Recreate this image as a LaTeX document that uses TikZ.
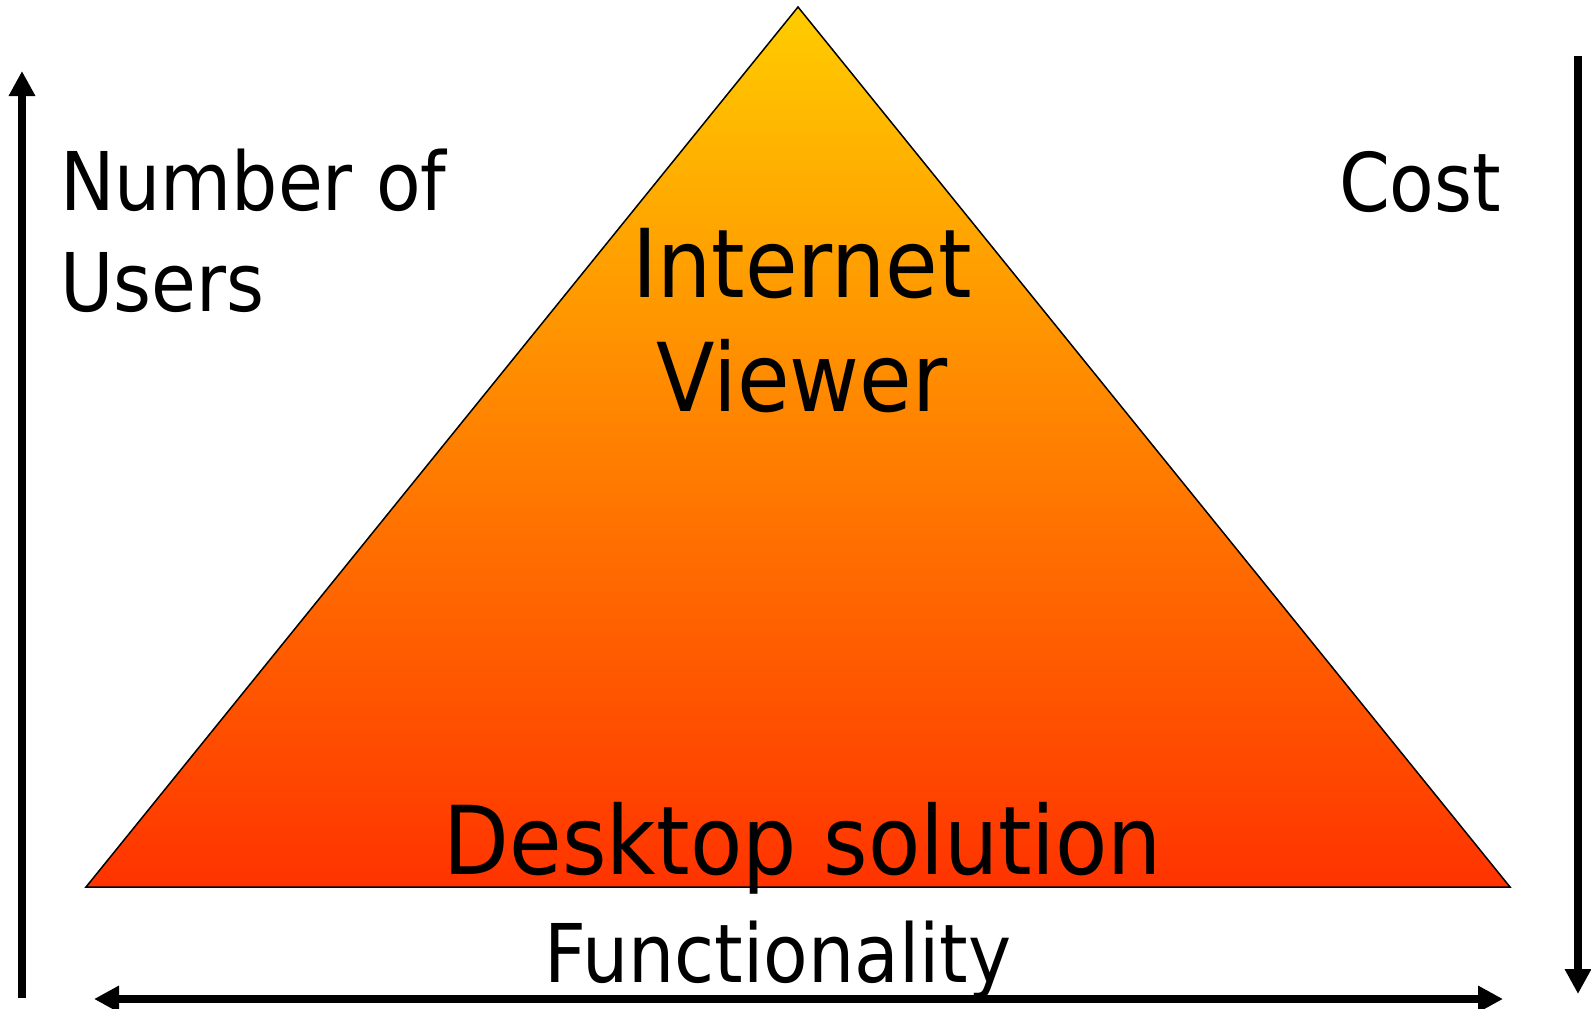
\documentclass[tikz,border=0pt]{standalone}
\usepackage{fontspec}
\setmainfont{DejaVu Sans Condensed}
\usetikzlibrary{arrows.meta}
\definecolor{topcol}{RGB}{255,204,0}
\definecolor{botcol}{RGB}{255,51,0}
\begin{document}
\begin{tikzpicture}[x=1pt,y=-1pt,
  tipshape/.style={},
  axis/.style={line width=7.5pt,-{Triangle[length=25pt,width=25pt]}},
  lbl/.style={inner sep=0pt,font=\fontsize{81}{101}\selectfont},
  big/.style={inner sep=0pt,font=\fontsize{95}{114}\selectfont}]
\useasboundingbox (0,0) rectangle (1591,1009);
% triangle
\coordinate (apex) at (798,7);
\coordinate (bl) at (86,887);
\coordinate (br) at (1510,887);
\shadedraw[top color=topcol,bottom color=botcol,draw=black,line width=1.5pt,line join=miter]
  (apex) -- (bl) -- (br) -- cycle;
% axes
\coordinate (ub) at (22,998);
\coordinate (ut) at (22,71);
\coordinate (ct) at (1578,56);
\coordinate (cb) at (1578,994);
\coordinate (fl) at (94,999);
\coordinate (fr) at (1503,999);
\draw[axis] (ub) -- (ut);
\draw[axis] (ct) -- (cb);
\draw[axis,{Triangle[length=25pt,width=25pt]}-{Triangle[length=25pt,width=25pt]}] (fl) -- (fr);
% labels
\node[lbl,anchor=base west,align=left] (users) at (60,311) {Number of\\Users};
\node[lbl,anchor=base] (cost) at (1420,211) {Cost};
\node[big,anchor=base,align=center] (inet) at (802,411) {Internet\\Viewer};
\node[big,anchor=base] (desk) at (803,874) {Desktop solution};
\node[lbl,anchor=base] (func) at (778,982) {Functionality};
\end{tikzpicture}
\end{document}
